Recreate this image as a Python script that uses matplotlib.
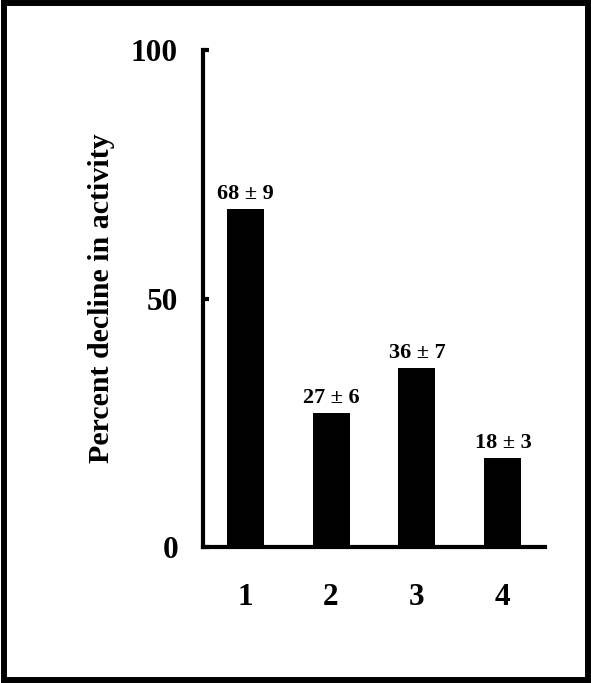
import matplotlib
matplotlib.use("Agg")
import matplotlib.pyplot as plt
from matplotlib.patches import Rectangle

categories = ["1", "2", "3", "4"]
values = [68, 27, 36, 18]
errors = [9, 6, 7, 3]
yticks = [0, 50, 100]
ylabel = "Percent decline in activity"

plt.rcParams['font.family'] = ['Liberation Serif', 'DejaVu Serif']
plt.rcParams['font.weight'] = 'bold'

fig = plt.figure(figsize=(5.91, 6.83), dpi=100)
ax = fig.add_axes([203/591, 136/683, (545-203)/591, (547-50)/683])

x = list(range(1, len(categories) + 1))
bars = ax.bar(x, values, width=0.43, color='black')
for xi, v, e in zip(x, values, errors):
    ax.annotate(f"{v} \u00b1 {e}", (xi, v), xytext=(0, 3.5), textcoords='offset points',
                ha='center', va='bottom', fontsize=16, fontweight='bold')

ax.set_xlim(0.51, 4.49)
ax.set_ylim(0, 100)
ax.set_yticks(yticks)
ax.set_yticklabels([str(t) for t in yticks], fontsize=22.5, fontweight='bold')
ax.set_xticks(x)
ax.set_xticklabels(categories, fontsize=22.5, fontweight='bold')
ax.tick_params(axis='x', length=0, pad=26)
ax.tick_params(axis='y', direction='in', length=4, width=3, pad=18)
for s in ['top', 'right']:
    ax.spines[s].set_visible(False)
for s in ['left', 'bottom']:
    ax.spines[s].set_linewidth(3)
ax.set_ylabel(ylabel, fontsize=21.5, fontweight='bold')
ax.yaxis.set_label_coords((102 - 203) / 342, 0.5)
ax.yaxis.label.set_va('center')

fig.patches.append(Rectangle((4/591, 3/683), 584/591, 677/683, transform=fig.transFigure,
                             fill=False, edgecolor='black', linewidth=4.3))

fig.savefig("out.png", dpi=100)
